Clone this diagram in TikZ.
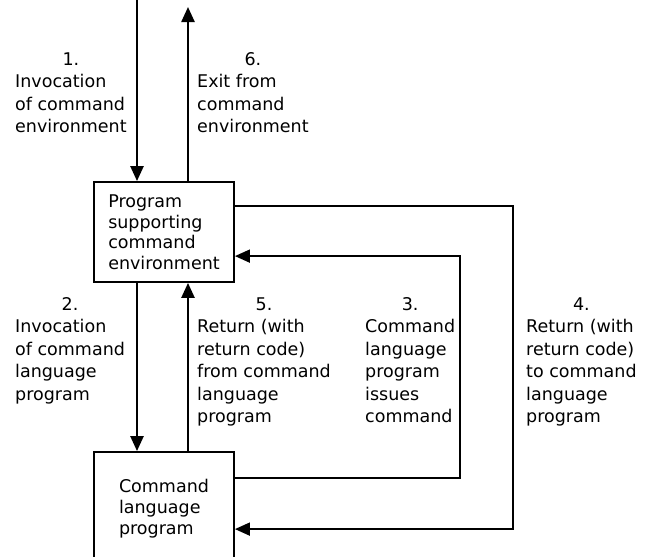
\documentclass[tikz,border=0pt]{standalone}
\usepackage{fontspec}
\setmainfont{DejaVu Sans}
\usetikzlibrary{arrows.meta,calc}
\def\steptext#1#2{\begin{tabular}[t]{@{}l@{}}\multicolumn{1}{@{}c@{}}{#1}\\#2\end{tabular}}
\tikzset{
	box/.style={draw, line width=1.8pt, minimum width=140pt, align=left, inner sep=0pt},
	flow/.style={line width=2.4pt, -{Triangle[width=13pt,length=15pt]}},
	loopflow/.style={line width=1.7pt, -{Triangle[width=13pt,length=15pt]}},
	steplabel/.style={anchor=base west, inner sep=0pt, font=\fontsize{17.5}{22.5}\selectfont}
}

\begin{document}
\begin{tikzpicture}[x=1pt, y=-1pt]
			%%%%% START %%%%%
			\useasboundingbox (0, 0) rectangle (651, 557);
			\clip (0, 0) rectangle (651, 557);
			
			\node[box, minimum height=100pt, font=\fontsize{17.5}{20.5}\selectfont] (prog) at (164, 232) {Program\\supporting\\command\\environment};
			\node[box, minimum height=110pt, font=\fontsize{17.5}{21}\selectfont, text depth=0pt] (clp) at (164, 507) {Command\\language\\program};
			
			\coordinate (down) at (137, 0);
			\coordinate (up) at (188, 7);
			
			\draw[flow] (down) -- (down |- prog.north);
			\draw[flow] (prog.north -| up) -- (up);
			\draw[flow] (prog.south -| down) -- (down |- clp.north);
			\draw[flow] (clp.north -| up) -- (up |- prog.south);
			
			\coordinate (out3) at ($(clp.north east)+(0, 27)$);
			\coordinate (in3) at ($(prog.north east)+(0, 75)$);
			\draw[loopflow] (out3) -- (460, 0 |- out3) -- (460, 0 |- in3) -- (in3);
			
			\coordinate (out4) at ($(prog.north east)+(0, 25)$);
			\coordinate (in4) at ($(clp.north east)+(0, 78)$);
			\draw[loopflow] (out4) -- (513, 0 |- out4) -- (513, 0 |- in4) -- (in4);
			
			\node[steplabel] (lab1) at (15, 65) {\steptext{1.}{Invocation\\of command\\environment}};
			\node[steplabel] (lab6) at (197, 65) {\steptext{6.}{Exit from\\command\\environment}};
			\node[steplabel] (lab2) at (15, 310) {\steptext{2.}{Invocation\\of command\\language\\program}};
			\node[steplabel] (lab5) at (197, 310) {\steptext{5.}{Return (with\\return code)\\from command\\language\\program}};
			\node[steplabel] (lab3) at (365, 310) {\steptext{3.}{Command\\language\\program\\issues\\command}};
			\node[steplabel] (lab4) at (526, 310) {\steptext{4.}{Return (with\\return code)\\to command\\language\\program}};
			
			%%%%% END %%%%%
\end{tikzpicture}
\end{document}
